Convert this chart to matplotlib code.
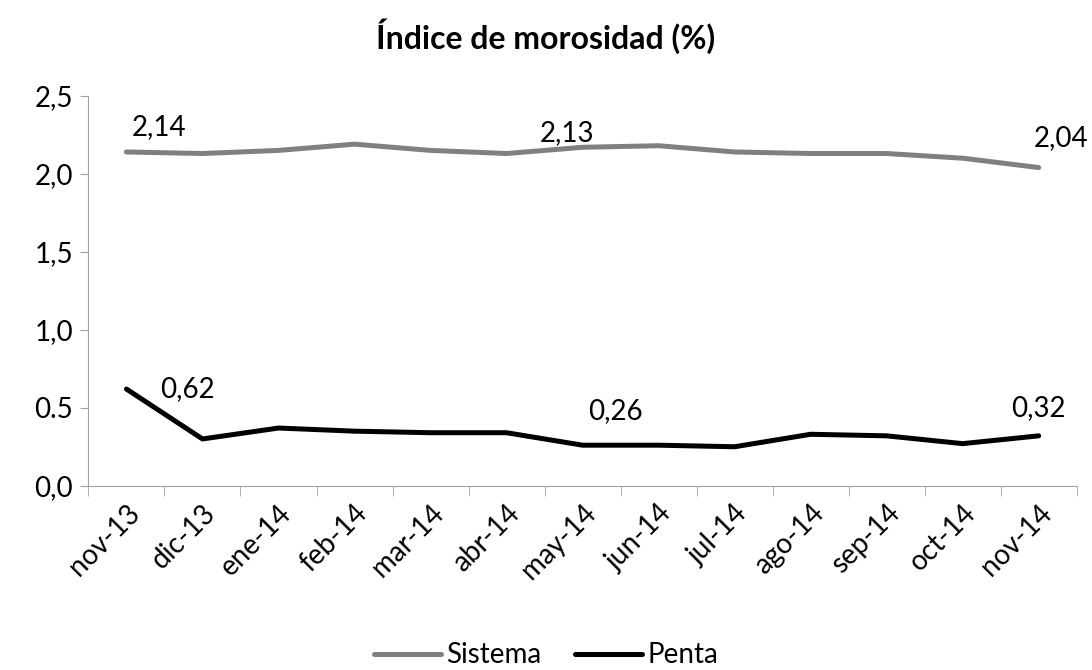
import matplotlib.pyplot as plt
import numpy as np

plt.rcParams['font.family'] = ['Lato', 'DejaVu Sans']

meses = ["nov-13", "dic-13", "ene-14", "feb-14", "mar-14", "abr-14", "may-14",
         "jun-14", "jul-14", "ago-14", "sep-14", "oct-14", "nov-14"]
sistema = [2.14, 2.13, 2.15, 2.19, 2.15, 2.13, 2.17, 2.18, 2.14, 2.13, 2.13, 2.10, 2.04]
penta = [0.62, 0.30, 0.37, 0.35, 0.34, 0.34, 0.26, 0.26, 0.25, 0.33, 0.32, 0.27, 0.32]

# etiquetas: (indice, texto, offset en pixeles)
lab_sistema = [(0, "2,14", (33, 25)), (6, "2,13", (-16, 14)), (12, "2,04", (22, 30))]
lab_penta = [(0, "0,62", (61, 0)), (6, "0,26", (33, 34)), (12, "0,32", (0, 28))]

fs = 20

fig = plt.figure(figsize=(10.92, 6.70), dpi=100)
ax = fig.add_axes([0.081, 0.275, 0.905, 0.582])

x = np.arange(len(meses))
ax.plot(x, sistema, color='#808080', linewidth=3.6, label='Sistema', solid_capstyle='round')
ax.plot(x, penta, color='black', linewidth=3.6, label='Penta', solid_capstyle='round')

for i, t, off in lab_sistema:
    ax.annotate(t, (x[i], sistema[i]), xytext=off, textcoords='offset pixels',
                ha='center', va='center', fontsize=fs)
for i, t, off in lab_penta:
    ax.annotate(t, (x[i], penta[i]), xytext=off, textcoords='offset pixels',
                ha='center', va='center', fontsize=fs)

ax.set_xlim(-0.5, len(meses) - 0.5)
ax.set_ylim(0, 2.5)
yt = np.arange(0, 2.51, 0.5)
ax.set_yticks(yt)
ax.set_yticklabels([f"{v:.1f}".replace('.', ',') if v != 0.5 else "0.5" for v in yt],
                   fontsize=fs)
ax.set_xticks(x)
ax.set_xticklabels(meses, rotation=45, ha='right', rotation_mode='anchor', fontsize=fs)
ax.tick_params(axis='x', length=0, pad=10)
ax.set_xticks(np.arange(-0.5, len(meses)), minor=True)
ax.tick_params(axis='x', which='minor', length=7, color='#a0a0a0')
ax.tick_params(axis='y', length=6, color='#a0a0a0', pad=5)

for s in ['top', 'right']:
    ax.spines[s].set_visible(False)
for s in ['left', 'bottom']:
    ax.spines[s].set_color('#a0a0a0')

fig.suptitle("Índice de morosidad (%)", fontsize=23, fontweight='bold', y=0.972)
fig.legend(loc='lower center', bbox_to_anchor=(0.5, -0.035), ncol=2, frameon=False,
           fontsize=fs, handlelength=2.4, columnspacing=1.2, handletextpad=0.2)

plt.savefig('out.png', dpi=100)
